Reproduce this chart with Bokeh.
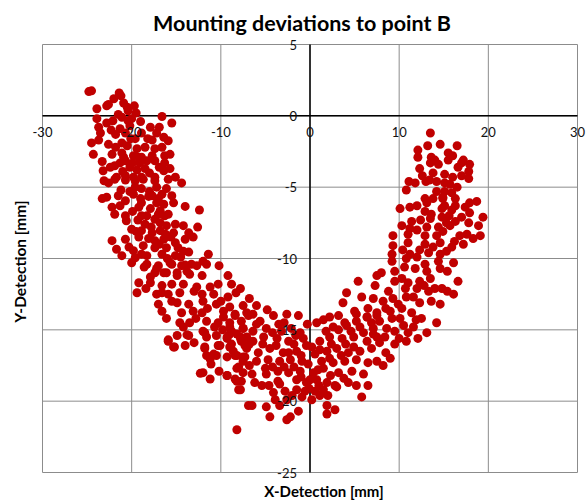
from math import pi
from bokeh.plotting import figure
from bokeh.models import ColumnDataSource, LabelSet, Label
from bokeh.core.properties import value
from bokeh.embed import file_html
from bokeh.resources import INLINE

# ---------------- data ----------------
x_ticks = [-30, -20, -10, 0, 10, 20, 30]
x_tick_labels = ["-30", "-20", "-10", "0", "10", "20", "30"]
y_ticks = [-25, -20, -15, -10, -5, 0, 5]
y_tick_labels = ["-25", "-20", "-15", "-10", "-5", "0", "5"]

# upper part of the left arm
left_arm_top = [
    (-24.8, 1.7), (-24.5, 1.75), (-21.4, 1.6), (-21.2, 1.4), (-22.0, 1.2), (-22.8, 0.7),
    (-22.6, 0.8), (-23.9, 0.5), (-20.5, 0.6), (-19.7, 0.7), (-20.4, 0.35), (-19.5, 0.2),
    (-21.5, 0.1), (-21.1, -0.1), (-23.9, -0.2), (-22.8, -0.5), (-22.1, -0.35), (-20.4, -0.35),
    (-20.2, -0.7), (-19.0, -0.4), (-16.6, -0.05), (-15.5, -0.5), (-17.9, -0.8), (-16.9, -0.8),
    (-23.7, -0.8), (-23.5, -1.2), (-21.3, -0.9), (-20.7, -1.2), (-18.9, -1.2), (-16.4, -1.5),
    (-15.9, -1.75), (-17.7, -1.7), (-24.5, -1.9), (-23.7, -1.7), (-21.1, -1.9), (-20.5, -2.1),
    (-19.4, -2.3), (-18.5, -2.2), (-17.4, -2.3), (-16.6, -2.2), (-24.3, -2.7), (-22.2, -2.7),
    (-21.1, -2.6), (-19.8, -2.8), (-18.9, -2.9), (-17.7, -2.8), (-16.3, -2.8), (-15.7, -2.7),
    (-23.3, -3.2), (-21.3, -3.3), (-20.7, -3.15), (-19.1, -3.3), (-18.3, -3.15), (-17.4, -3.15),
    (-16.3, -3.3), (-22.4, -3.6), (-21.9, -3.5), (-20.2, -3.6), (-19.4, -3.8), (-18.5, -3.7),
    (-16.4, -3.85), (-15.7, -3.7), (-23.2, -3.85), (-21.7, -4.3), (-20.7, -4.2), (-19.8, -4.3),
    (-18.9, -4.3), (-17.4, -4.3), (-15.1, -4.3), (-20.9, 0.9), (-20.0, -0.2), (-21.8, -1.3),
    (-19.6, -1.6), (-22.3, -1.0), (-21.8, -2.2), (-20.9, -2.9), (-20.1, -1.6), (-19.2, -2.9),
    (-18.2, -1.6), (-17.2, -1.2), (-22.6, -2.0), (-21.0, -3.9), (-19.9, -3.3), (-18.0, -4.0),
    (-16.9, -3.6),
]

# middle part of the left arm
left_arm_mid = [
    (-23.1, -4.55), (-21.9, -4.45), (-20.7, -4.5), (-19.6, -4.55), (-18.7, -4.45), (-17.4, -4.55),
    (-15.9, -4.45), (-14.4, -4.7), (-17.2, -5.0), (-18.9, -5.1), (-19.6, -5.0), (-16.1, -5.1),
    (-22.8, -5.7), (-23.3, -5.8), (-21.5, -5.6), (-19.8, -5.5), (-18.1, -5.65), (-16.6, -5.5),
    (-15.5, -5.6), (-20.7, -5.95), (-18.9, -6.1), (-17.2, -6.1), (-15.3, -6.1), (-14.0, -6.35),
    (-22.2, -6.4), (-19.2, -6.4), (-17.9, -6.5), (-16.8, -6.65), (-21.9, -6.9), (-20.7, -7.0),
    (-18.3, -7.0), (-17.4, -7.25), (-16.3, -7.0), (-20.6, -7.35), (-18.5, -7.6), (-16.8, -7.5),
    (-16.1, -7.7), (-15.1, -7.6), (-14.2, -7.7), (-20.0, -7.95), (-18.9, -8.05), (-17.7, -8.2),
    (-16.8, -8.05), (-15.3, -8.2), (-13.6, -8.2), (-22.2, -8.75), (-20.7, -8.65), (-19.2, -8.5),
    (-17.4, -8.75), (-16.4, -8.65), (-15.1, -8.9), (-14.0, -8.65), (-13.1, -8.5), (-21.7, -9.35),
    (-19.8, -9.45), (-17.4, -9.25), (-16.1, -9.25), (-14.8, -9.25), (-21.1, -9.8), (-19.6, -9.95),
    (-18.3, -9.8), (-16.6, -9.7), (-15.1, -9.8), (-13.6, -9.55), (-20.0, -10.3), (-18.3, -10.4),
    (-17.0, -10.5), (-15.7, -10.3), (-14.4, -10.5), (-13.3, -10.4), (-17.4, -11.0), (-16.1, -11.0),
    (-14.9, -11.0), (-13.8, -10.9), (-15.9, -6.9), (-12.4, -6.6), (-12.6, -7.8), (-11.4, -9.7),
    (-12.0, -10.2), (-18.0, -5.3), (-17.0, -5.8), (-19.3, -7.3), (-17.8, -7.8), (-15.6, -8.5),
    (-14.5, -9.9), (-16.9, -9.0), (-18.7, -9.1), (-22.6, -4.7), (-21.2, -5.2), (-20.2, -5.3),
    (-19.0, -5.8), (-17.7, -5.6), (-16.4, -6.2), (-21.3, -6.3), (-19.9, -6.7), (-18.9, -7.0),
    (-17.0, -6.9), (-19.5, -8.1), (-18.1, -8.6), (-16.2, -8.3), (-20.3, -9.2), (-18.9, -9.7),
    (-16.0, -10.0), (-14.2, -9.5),
]

# lower part of the left arm
left_arm_low = [
    (-18.6, -10.6), (-17.2, -10.7), (-15.5, -10.4), (-14.0, -10.45), (-12.7, -10.5), (-11.6, -10.4),
    (-10.2, -10.5), (-16.4, -11.0), (-14.9, -11.2), (-13.5, -11.1), (-12.1, -11.2), (-9.2, -11.2),
    (-19.2, -11.7), (-19.4, -12.4), (-17.9, -11.7), (-16.6, -11.9), (-15.5, -11.8), (-14.2, -11.8),
    (-12.7, -12.0), (-11.2, -12.0), (-10.3, -11.8), (-8.8, -11.8), (-7.8, -12.1), (-17.2, -12.5),
    (-15.9, -12.5), (-14.6, -12.4), (-12.1, -12.5), (-10.8, -12.5), (-9.2, -12.7), (-17.0, -13.2),
    (-14.9, -13.1), (-13.6, -13.2), (-12.0, -13.0), (-10.5, -13.2), (-9.0, -13.4), (-7.5, -13.3),
    (-16.6, -13.7), (-14.4, -13.8), (-13.1, -13.7), (-12.1, -13.8), (-9.7, -13.7), (-8.4, -13.9),
    (-7.1, -13.8), (-16.1, -14.2), (-14.6, -14.5), (-13.5, -14.5), (-11.6, -14.4), (-10.3, -14.5),
    (-9.0, -14.5), (-7.7, -14.4), (-14.2, -14.8), (-12.0, -15.1), (-10.7, -14.8), (-8.8, -15.1),
    (-7.5, -14.9), (-15.9, -15.8), (-14.9, -15.4), (-13.6, -15.4), (-11.6, -15.5), (-10.5, -15.4),
    (-9.3, -15.6), (-7.8, -15.5), (-15.3, -16.2), (-14.0, -16.1), (-11.8, -16.3), (-10.3, -16.1),
    (-9.0, -16.2), (-7.3, -16.1), (-11.6, -16.8), (-10.5, -16.8), (-8.2, -16.8), (-7.3, -16.9),
    (-13.0, -12.3), (-11.5, -13.5), (-15.5, -13.0), (-12.8, -14.2), (-10.0, -13.0), (-8.3, -12.4),
    (-13.0, -15.9), (-6.8, -12.8), (-6.4, -13.9), (-17.9, -11.3), (-18.4, -12.1), (-16.6, -12.4),
]

# bottom left corner of the bend
bend_left = [
    (-15.9, -15.7), (-13.8, -15.35), (-15.2, -16.2), (-11.8, -15.2), (-9.0, -15.3), (-11.8, -16.2),
    (-10.8, -16.7), (-10.1, -16.1), (-11.2, -17.05), (-11.1, -17.4), (-12.0, -18.0), (-12.3, -18.05),
    (-11.2, -18.45), (-10.2, -17.9), (-9.3, -18.2), (-8.4, -18.45), (-7.7, -18.6), (-7.8, -19.2),
    (-8.0, -17.6), (-8.4, -16.8), (-7.5, -16.9), (-7.7, -15.8), (-7.1, -15.5), (-8.8, -16.0),
    (-6.9, -20.3),
]

# bottom of the bend around x = 0
bend_bottom = [
    (-9.7, -14.1), (-8.4, -14.0), (-6.9, -14.0), (-5.6, -14.4), (-4.1, -14.0), (-2.6, -13.9),
    (-1.3, -14.0), (0.75, -14.5), (1.5, -14.3), (2.2, -14.1), (3.2, -14.0), (5.2, -13.9),
    (6.4, -14.1), (7.5, -14.0), (-9.0, -14.8), (-7.5, -14.9), (-6.4, -15.1), (-4.9, -14.9),
    (-3.2, -15.1), (-2.1, -14.9), (-1.1, -15.2), (2.6, -14.8), (4.1, -14.7), (5.6, -14.8),
    (7.1, -14.9), (-9.3, -15.5), (-7.8, -15.6), (-6.4, -15.8), (-5.2, -15.5), (-3.7, -15.6),
    (-2.4, -15.8), (-0.75, -15.6), (1.1, -15.8), (2.2, -15.5), (3.6, -15.6), (4.9, -15.5),
    (6.4, -15.8), (7.5, -15.5), (-8.6, -16.5), (-7.1, -16.3), (-5.8, -16.6), (-4.5, -16.3),
    (-3.0, -16.6), (-1.5, -16.5), (0.2, -16.2), (0.56, -16.7), (1.9, -16.5), (3.0, -16.3),
    (4.3, -16.6), (5.6, -16.5), (6.9, -16.3), (-9.3, -16.9), (-7.5, -17.2), (-6.0, -17.2),
    (-4.7, -17.1), (-3.4, -17.2), (-2.2, -17.1), (-0.9, -17.2), (-0.2, -17.4), (1.3, -17.2),
    (2.6, -17.3), (3.9, -17.2), (5.2, -17.1), (6.5, -17.3), (7.5, -17.2), (-8.2, -17.7),
    (-7.5, -18.0), (-9.3, -18.2), (-4.9, -18.1), (-3.6, -17.9), (-2.4, -18.0), (-1.1, -17.9),
    (0.4, -18.0), (1.5, -17.7), (3.2, -18.0), (4.7, -17.9), (6.0, -18.1), (-8.2, -18.6),
    (-6.2, -18.7), (-3.6, -18.6), (-3.4, -18.8), (-1.5, -18.5), (-0.4, -18.7), (0.75, -18.5),
    (1.9, -18.7), (2.8, -18.9), (4.3, -18.7), (5.2, -18.9), (6.5, -18.9), (-8.0, -19.2),
    (-4.1, -19.4), (-2.8, -19.3), (-1.5, -19.2), (-0.56, -19.3), (0.56, -19.3), (1.5, -19.2),
    (3.0, -19.0), (5.8, -19.7), (-3.9, -19.9), (-2.6, -19.9), (-0.9, -19.7), (0.2, -19.9),
    (1.1, -19.6), (-6.5, -20.3), (-4.9, -20.4), (-3.4, -20.3), (-1.3, -20.7), (1.9, -20.3),
    (2.8, -20.6), (1.9, -20.9), (-4.5, -21.1), (-2.2, -21.1), (-2.6, -21.3), (-8.2, -22.0),
    (-6.0, -13.3), (-4.8, -13.6), (-3.5, -14.6), (-0.3, -14.6), (-5.0, -17.7), (-6.8, -16.0),
    (-1.8, -16.0), (0.9, -17.8), (2.4, -16.0), (4.0, -16.0), (-1.0, -18.3), (2.0, -19.6),
    (-6.5, -18.1), (3.8, -18.4), (-9.8, -15.0), (-8.2, -15.3), (-6.0, -14.6), (-4.2, -15.2),
    (-2.9, -14.5), (-1.6, -15.4), (-0.4, -16.1), (1.8, -15.1), (3.2, -15.0), (4.6, -15.1),
    (6.0, -15.2), (-5.3, -16.0), (-3.8, -16.1), (-2.4, -16.6), (-1.0, -16.8), (1.1, -16.4),
    (2.2, -17.0), (3.5, -16.8), (4.9, -16.2), (-6.8, -17.5), (-4.2, -17.6), (-2.9, -17.6),
    (-1.8, -17.6), (0.0, -18.5), (2.3, -18.2), (-5.4, -18.9), (-4.6, -18.9), (-2.0, -19.6),
    (-0.1, -19.1), (1.0, -18.9),
]

# lower part of the right arm
right_arm_low = [
    (9.3, -8.4), (11.0, -8.3), (12.9, -8.4), (14.2, -8.4), (17.6, -8.3), (18.3, -8.6),
    (9.3, -9.1), (11.0, -8.9), (12.9, -9.0), (14.6, -8.9), (15.9, -9.2), (17.2, -9.0),
    (9.2, -9.7), (11.2, -9.7), (13.3, -9.6), (14.6, -9.7), (9.2, -10.2), (10.8, -10.0),
    (12.0, -9.9), (14.4, -10.2), (16.1, -10.3), (8.0, -11.0), (9.5, -10.9), (11.8, -10.7),
    (13.1, -10.9), (14.6, -10.7), (7.5, -11.2), (5.4, -11.6), (9.5, -11.6), (11.0, -11.7),
    (12.3, -11.6), (13.5, -11.4), (16.6, -11.6), (7.3, -11.9), (8.8, -12.3), (10.7, -12.1),
    (12.0, -12.1), (13.3, -12.3), (14.8, -12.1), (16.1, -12.5), (4.1, -12.4), (5.8, -12.7),
    (7.1, -12.8), (8.2, -13.0), (9.3, -12.8), (10.8, -12.7), (12.3, -13.1), (13.6, -13.0),
    (14.6, -13.2), (3.7, -13.1), (5.0, -13.7), (6.5, -13.5), (7.5, -13.8), (9.0, -13.7),
    (10.3, -13.5), (11.4, -13.8), (12.5, -14.2), (14.2, -14.5), (3.9, -14.5), (5.2, -14.4),
    (6.4, -14.1), (7.8, -14.4), (9.2, -14.2), (10.5, -14.7), (11.6, -14.8), (13.1, -15.2),
    (7.1, -15.3), (8.4, -15.5), (9.5, -15.1), (11.0, -15.2), (12.1, -15.6), (7.8, -15.9),
    (9.5, -16.0), (10.8, -15.8), (8.5, -16.6), (9.0, -17.0), (8.2, -17.5), (10.4, -9.4),
    (12.3, -9.4), (13.8, -9.2), (15.3, -9.5), (10.6, -10.6), (12.9, -10.4), (15.4, -10.9),
    (10.3, -11.4), (12.8, -11.9), (14.0, -12.1), (15.4, -12.3), (11.6, -12.7), (9.9, -13.2),
    (8.5, -13.5), (10.1, -14.2), (11.9, -14.3), (6.9, -14.5), (8.6, -14.9), (10.0, -15.6),
]

# upper part of the right arm
right_arm_top = [
    (13.5, -1.2), (12.1, -2.4), (13.2, -2.1), (14.6, -2.0), (16.5, -2.1), (12.1, -2.9),
    (13.6, -2.9), (15.5, -2.6), (16.0, -2.8), (13.5, -3.3), (14.4, -3.4), (15.5, -3.1),
    (17.2, -3.1), (17.0, -3.3), (17.9, -3.4), (12.3, -3.7), (13.8, -4.0), (15.1, -4.1),
    (17.8, -3.9), (17.0, -4.2), (17.8, -4.4), (11.1, -4.6), (11.8, -4.7), (13.0, -4.6),
    (13.4, -4.5), (15.1, -4.7), (16.0, -4.3), (15.7, -4.8), (10.8, -5.2), (14.2, -5.3),
    (15.1, -5.3), (15.9, -5.4), (14.9, -5.7), (12.9, -5.8), (16.3, -5.8), (18.7, -6.0),
    (17.9, -6.1), (10.1, -6.5), (11.2, -6.4), (12.0, -6.3), (15.1, -6.3), (16.3, -6.3),
    (12.9, -6.7), (13.6, -6.9), (14.8, -6.5), (15.9, -6.6), (17.4, -6.4), (17.9, -6.8),
    (19.4, -7.1), (13.5, -7.2), (14.8, -7.1), (15.3, -7.5), (16.3, -7.4), (17.0, -7.1),
    (17.8, -7.5), (11.4, -7.4), (10.3, -7.7), (11.2, -7.9), (13.1, -7.8), (14.4, -7.8),
    (15.7, -7.7), (18.9, -7.7), (16.8, -8.4), (19.1, -8.4), (14.9, -5.8), (12.6, -4.2),
    (14.0, -3.1), (14.2, -4.6), (16.6, -3.6), (16.5, -5.0), (13.8, -5.8), (13.1, -6.1),
    (15.6, -7.0), (12.4, -7.3), (12.0, -8.0), (14.9, -8.1), (16.2, -8.8),
]

groups = [left_arm_top, left_arm_mid, left_arm_low, bend_left, bend_bottom,
          right_arm_low, right_arm_top]
x_detection = [pt[0] for g in groups for pt in g]
y_detection = [pt[1] for g in groups for pt in g]

# ---------------- layout constants (pixels) ----------------
W, H = 586, 501
PLOT_L, PLOT_R, PLOT_T, PLOT_B = 42, 577, 44, 472   # plot area inside the canvas
X_MIN, X_MAX = x_ticks[0], x_ticks[-1]
Y_MIN, Y_MAX = y_ticks[0], y_ticks[-1]
px_x = (PLOT_R - PLOT_L) / (X_MAX - X_MIN)
px_y = (PLOT_B - PLOT_T) / (Y_MAX - Y_MIN)
x_range = (X_MIN - PLOT_L / px_x, X_MAX + (W - PLOT_R) / px_x)
y_range = (Y_MIN - (H - PLOT_B) / px_y, Y_MAX + PLOT_T / px_y)

FONT = "Lato"
GRID = "#8c8c8c"
TXT = "#111111"

p = figure(width=W, height=H, x_range=x_range, y_range=y_range, title=None,
           output_backend="svg", toolbar_location=None,
           min_border=0, min_border_left=0, min_border_right=0,
           min_border_top=0, min_border_bottom=0,
           background_fill_color="white", border_fill_color="white")
p.outline_line_color = None
p.axis.visible = False
p.grid.visible = False

# grid lines (plot area framed by the outermost ones)
p.segment(x0=x_ticks, y0=[Y_MIN] * len(x_ticks), x1=x_ticks, y1=[Y_MAX] * len(x_ticks),
          line_color=GRID, line_width=1)
p.segment(x0=[X_MIN] * len(y_ticks), y0=y_ticks, x1=[X_MAX] * len(y_ticks), y1=y_ticks,
          line_color=GRID, line_width=1)

# axis lines through the origin
p.segment(x0=[X_MIN, 0], y0=[0, Y_MIN], x1=[X_MAX, 0], y1=[0, Y_MAX],
          line_color="black", line_width=1.5)

# data
src = ColumnDataSource(data=dict(x=x_detection, y=y_detection))
p.scatter(x="x", y="y", source=src, size=9, fill_color="#c00000", line_color=None)

# tick labels along the axes through the origin
xlab_src = ColumnDataSource(data=dict(x=x_ticks, y=[0] * len(x_ticks), text=x_tick_labels))
ylab_src = ColumnDataSource(data=dict(x=[0] * len(y_ticks), y=y_ticks, text=y_tick_labels))
p.add_layout(LabelSet(x="x", y="y", text="text", source=xlab_src, y_offset=-11,
                      text_align="center", text_baseline="top",
                      text_font=value(FONT), text_font_size=value("13px"), text_color=TXT))
p.add_layout(LabelSet(x="x", y="y", text="text", source=ylab_src, x_offset=-13,
                      text_align="right", text_baseline="middle",
                      text_font=value(FONT), text_font_size=value("13px"), text_color=TXT))

# titles
p.add_layout(Label(x=(X_MIN + X_MAX) / 2, y=Y_MAX, x_offset=-8, y_offset=22,
                   text="Mounting deviations to point B", text_align="center",
                   text_baseline="middle", text_font=FONT, text_font_size="21.5px",
                   text_font_style="bold", text_color="#000000"))
p.add_layout(Label(x=(X_MIN + X_MAX) / 2, y=Y_MIN, x_offset=14, y_offset=-18,
                   text="X-Detection [mm]", text_align="center", text_baseline="middle",
                   text_font=FONT, text_font_size="15px", text_font_style="bold",
                   text_color="#000000"))
p.add_layout(Label(x=X_MIN, y=(Y_MIN + Y_MAX) / 2, x_offset=-23, y_offset=-3, angle=pi / 2,
                   text="Y-Detection [mm]", text_align="center", text_baseline="middle",
                   text_font=FONT, text_font_size="15.5px", text_font_style="bold",
                   text_color="#000000"))

open("out.html", "w").write(file_html(p, INLINE))
